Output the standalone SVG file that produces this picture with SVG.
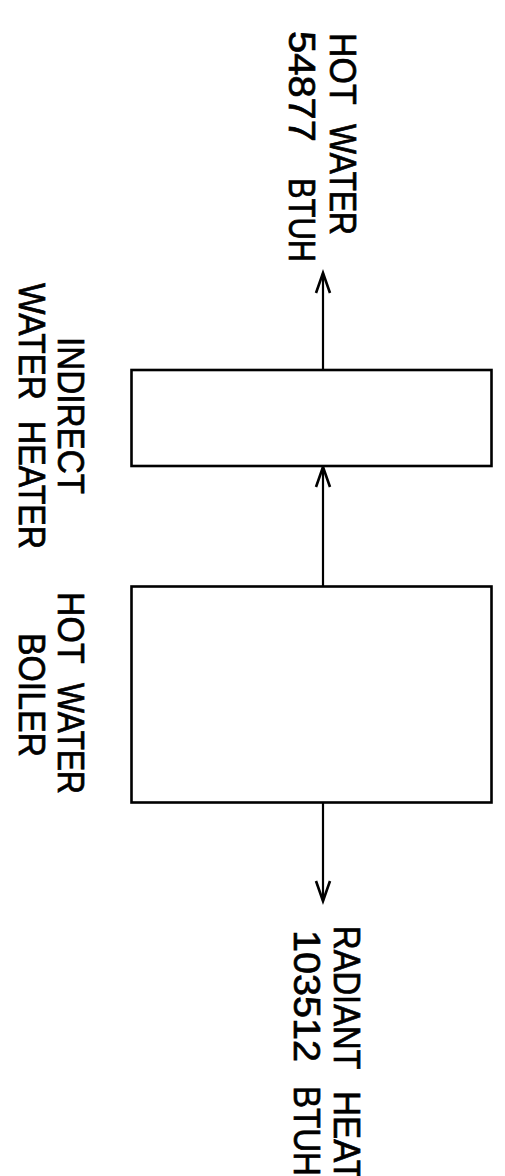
<svg xmlns="http://www.w3.org/2000/svg" width="505" height="1176" viewBox="0 0 505 1176">
  <style>
    .box { fill: #ffffff; stroke: #000000; stroke-width: 2.6; }
    .flow { fill: none; stroke: #000000; stroke-width: 2.2; }
    .lbl { font-family: "Liberation Sans", Arial, sans-serif; font-size: 37px; fill: #000000; stroke: #000000; stroke-width: 0.7; }
  </style>
  <defs>
    <marker id="vee" markerUnits="userSpaceOnUse" markerWidth="24" markerHeight="20" refX="0" refY="0" viewBox="-22 -10 24 20" orient="auto" overflow="visible">
      <path d="M-20,-7 L0,0 L-20,7" fill="none" stroke="#000000" stroke-width="2.6" stroke-linejoin="miter"/>
    </marker>
  </defs>
  <rect width="505" height="1176" fill="#ffffff"/>

  <!-- flow lines along the centre axis -->
  <g id="connectors">
    <line class="flow" x1="323" y1="370" x2="323" y2="273" marker-end="url(#vee)"/>
    <line class="flow" x1="323" y1="586.5" x2="323" y2="467" marker-end="url(#vee)"/>
    <line class="flow" x1="323" y1="803" x2="323" y2="901" marker-end="url(#vee)"/>
  </g>

  <!-- indirect water heater -->
  <g id="water-heater">
    <rect class="box" x="131.5" y="370" width="360" height="96"/>
    <text class="lbl" transform="translate(58,0) rotate(90)"><tspan x="337" textLength="157" lengthAdjust="spacingAndGlyphs">INDIRECT</tspan></text>
    <text class="lbl" transform="translate(19,0) rotate(90)"><tspan x="283" textLength="117" lengthAdjust="spacingAndGlyphs">WATER</tspan> <tspan x="421" textLength="128" lengthAdjust="spacingAndGlyphs">HEATER</tspan></text>
  </g>

  <!-- hot water boiler -->
  <g id="boiler">
    <rect class="box" x="131.5" y="586.5" width="360" height="216"/>
    <text class="lbl" transform="translate(58,0) rotate(90)"><tspan x="592" textLength="71" lengthAdjust="spacingAndGlyphs">HOT</tspan> <tspan x="683" textLength="111" lengthAdjust="spacingAndGlyphs">WATER</tspan></text>
    <text class="lbl" transform="translate(19,0) rotate(90)"><tspan x="633" textLength="124" lengthAdjust="spacingAndGlyphs">BOILER</tspan></text>
  </g>

  <!-- domestic hot water output -->
  <g id="hot-water-out">
    <text class="lbl" transform="translate(330,0) rotate(90)"><tspan x="33" textLength="71" lengthAdjust="spacingAndGlyphs">HOT</tspan> <tspan x="124" textLength="111" lengthAdjust="spacingAndGlyphs">WATER</tspan></text>
    <text class="lbl" transform="translate(289,0) rotate(90)"><tspan x="31" textLength="111" lengthAdjust="spacingAndGlyphs">54877</tspan> <tspan x="178" textLength="84" lengthAdjust="spacingAndGlyphs">BTUH</tspan></text>
  </g>

  <!-- radiant heating output, running past the lower sheet edge -->
  <g id="radiant-out">
    <text class="lbl" transform="translate(334,0) rotate(90)"><tspan x="926" textLength="143" lengthAdjust="spacingAndGlyphs">RADIANT</tspan> <tspan x="1091" textLength="90" lengthAdjust="spacingAndGlyphs">HEAT</tspan></text>
    <text class="lbl" transform="translate(294,0) rotate(90)"><tspan x="930" textLength="132" lengthAdjust="spacingAndGlyphs">103512</tspan> <tspan x="1086" textLength="90" lengthAdjust="spacingAndGlyphs">BTUH</tspan></text>
  </g>
</svg>
